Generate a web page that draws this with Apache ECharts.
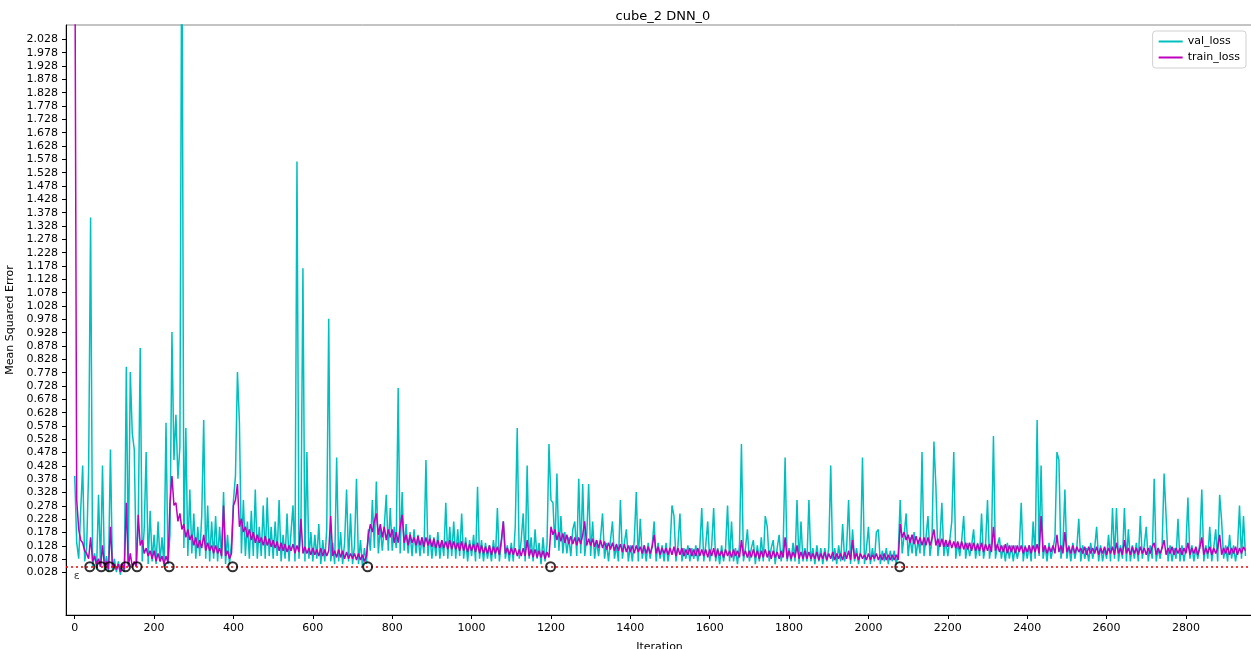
<!DOCTYPE html>
<html>
<head>
<meta charset="utf-8">
<title>cube_2 DNN_0</title>
<script src="https://cdn.jsdelivr.net/npm/echarts@6/dist/echarts.min.js"></script>
<style>
  html, body { margin: 0; padding: 0; background: #fff; }
  #chart { width: 1251px; height: 649px; }
</style>
</head>
<body>
<div id="chart"></div>
<script>
// Losses are logged every STEP iterations; one row below = 100 iterations.
const STEP = 5;

const VAL_LOSS = [
  0.39,0.14,0.08,0.26,0.43,0.07,0.12,0.41,1.36,0.05,0.10,0.04,0.32,0.05,0.43,0.04,0.09,0.03,0.49,0.04,
  0.08,0.03,0.07,0.02,0.06,0.03,0.80,0.06,0.78,0.55,0.49,0.05,0.21,0.87,0.07,0.19,0.48,0.06,0.26,0.07,
  0.17,0.06,0.22,0.07,0.16,0.05,0.59,0.06,0.17,0.93,0.45,0.62,0.38,0.50,2.60,0.12,0.57,0.09,0.34,0.10,
  0.25,0.08,0.20,0.09,0.24,0.60,0.08,0.28,0.07,0.22,0.08,0.24,0.07,0.20,0.08,0.33,0.06,0.17,0.06,0.14,
  0.30,0.39,0.78,0.59,0.10,0.30,0.09,0.22,0.08,0.26,0.09,0.34,0.08,0.20,0.09,0.28,0.08,0.31,0.09,0.20,
  0.08,0.22,0.09,0.30,0.07,0.17,0.08,0.25,0.07,0.18,0.28,0.07,1.57,0.08,0.20,1.17,0.07,0.48,0.08,0.18,
  0.07,0.17,0.08,0.21,0.06,0.15,0.07,0.19,0.98,0.07,0.14,0.06,0.46,0.07,0.18,0.06,0.14,0.34,0.07,0.25,
  0.06,0.13,0.38,0.06,0.15,0.05,0.12,0.06,0.19,0.11,0.30,0.12,0.37,0.10,0.20,0.11,0.20,0.32,0.11,0.27,
  0.11,0.20,0.12,0.72,0.10,0.33,0.11,0.21,0.10,0.18,0.09,0.19,0.10,0.17,0.09,0.16,0.10,0.45,0.09,0.17,
  0.08,0.16,0.09,0.18,0.08,0.15,0.09,0.29,0.08,0.20,0.09,0.22,0.08,0.19,0.09,0.25,0.08,0.16,0.07,0.15,
  0.09,0.17,0.07,0.35,0.08,0.15,0.07,0.14,0.08,0.13,0.07,0.15,0.08,0.27,0.07,0.14,0.22,0.08,0.13,0.07,
  0.14,0.07,0.20,0.57,0.08,0.15,0.25,0.07,0.43,0.08,0.16,0.07,0.19,0.08,0.14,0.06,0.16,0.07,0.13,0.51,
  0.30,0.29,0.12,0.40,0.11,0.24,0.10,0.18,0.10,0.16,0.09,0.19,0.22,0.09,0.38,0.10,0.36,0.09,0.16,0.36,
  0.09,0.22,0.08,0.15,0.09,0.16,0.25,0.08,0.14,0.07,0.15,0.22,0.08,0.13,0.07,0.30,0.08,0.14,0.19,0.07,
  0.13,0.07,0.15,0.33,0.07,0.23,0.08,0.13,0.07,0.14,0.08,0.13,0.22,0.07,0.14,0.08,0.13,0.07,0.14,0.07,
  0.12,0.28,0.24,0.07,0.13,0.25,0.07,0.12,0.08,0.13,0.07,0.12,0.08,0.13,0.07,0.12,0.27,0.07,0.13,0.22,
  0.07,0.13,0.27,0.07,0.12,0.06,0.13,0.07,0.12,0.28,0.07,0.22,0.07,0.12,0.06,0.13,0.51,0.07,0.12,0.19,
  0.07,0.12,0.15,0.06,0.13,0.07,0.16,0.07,0.24,0.20,0.07,0.12,0.15,0.06,0.12,0.17,0.07,0.12,0.46,0.07,
  0.12,0.07,0.14,0.07,0.30,0.06,0.22,0.07,0.12,0.07,0.30,0.07,0.12,0.06,0.13,0.07,0.12,0.06,0.12,0.07,
  0.12,0.43,0.07,0.12,0.06,0.13,0.07,0.21,0.07,0.12,0.30,0.06,0.19,0.07,0.12,0.06,0.11,0.46,0.06,0.12,
  0.20,0.06,0.12,0.07,0.18,0.19,0.06,0.11,0.07,0.12,0.06,0.11,0.07,0.11,0.06,0.10,0.30,0.10,0.17,0.25,
  0.09,0.16,0.10,0.18,0.09,0.15,0.10,0.48,0.09,0.16,0.24,0.09,0.15,0.52,0.35,0.09,0.15,0.29,0.09,0.15,
  0.09,0.15,0.22,0.48,0.08,0.14,0.09,0.15,0.24,0.08,0.14,0.09,0.13,0.19,0.08,0.14,0.09,0.25,0.08,0.13,
  0.30,0.08,0.14,0.54,0.08,0.13,0.16,0.08,0.13,0.07,0.14,0.08,0.13,0.07,0.13,0.08,0.12,0.29,0.07,0.13,
  0.08,0.13,0.07,0.22,0.08,0.60,0.09,0.43,0.08,0.13,0.07,0.14,0.08,0.12,0.16,0.48,0.45,0.08,0.13,0.34,
  0.08,0.13,0.07,0.14,0.08,0.12,0.23,0.07,0.13,0.08,0.12,0.07,0.14,0.08,0.12,0.20,0.07,0.13,0.07,0.12,
  0.08,0.17,0.07,0.27,0.08,0.27,0.07,0.13,0.08,0.27,0.07,0.19,0.07,0.13,0.08,0.14,0.07,0.24,0.08,0.13,
  0.20,0.07,0.13,0.08,0.38,0.07,0.12,0.08,0.13,0.40,0.24,0.07,0.13,0.07,0.12,0.08,0.23,0.07,0.13,0.07,
  0.12,0.31,0.08,0.13,0.07,0.12,0.08,0.14,0.34,0.07,0.13,0.08,0.20,0.07,0.12,0.19,0.07,0.32,0.22,0.08,
  0.13,0.07,0.17,0.08,0.13,0.07,0.12,0.28,0.08,0.24,0.09
];

const TRAIN_LOSS = [
  2.60,0.30,0.19,0.15,0.14,0.11,0.10,0.08,0.16,0.07,0.09,0.06,0.08,0.05,0.13,0.05,0.07,0.04,0.20,0.05,
  0.06,0.04,0.06,0.03,0.06,0.04,0.29,0.05,0.10,0.05,0.07,0.05,0.245,0.13,0.15,0.10,0.12,0.09,0.11,0.08,
  0.11,0.07,0.10,0.07,0.09,0.06,0.09,0.065,0.29,0.39,0.28,0.29,0.22,0.25,0.19,0.21,0.16,0.19,0.15,0.17,
  0.13,0.16,0.12,0.15,0.12,0.17,0.11,0.14,0.11,0.13,0.10,0.13,0.10,0.12,0.09,0.28,0.09,0.11,0.08,0.10,
  0.28,0.30,0.36,0.20,0.23,0.18,0.20,0.16,0.19,0.15,0.18,0.14,0.17,0.14,0.16,0.13,0.165,0.13,0.155,0.125,
  0.15,0.12,0.145,0.11,0.14,0.11,0.135,0.105,0.13,0.11,0.135,0.10,0.13,0.105,0.23,0.10,0.125,0.10,0.12,0.095,
  0.12,0.095,0.115,0.09,0.12,0.09,0.115,0.09,0.11,0.24,0.09,0.11,0.085,0.115,0.085,0.11,0.08,0.105,0.08,0.10,
  0.08,0.10,0.075,0.10,0.075,0.095,0.07,0.09,0.17,0.21,0.18,0.22,0.25,0.17,0.21,0.16,0.20,0.15,0.19,0.16,
  0.19,0.14,0.18,0.14,0.20,0.245,0.14,0.17,0.13,0.17,0.14,0.16,0.13,0.165,0.13,0.16,0.125,0.16,0.13,0.155,
  0.125,0.155,0.12,0.15,0.12,0.15,0.12,0.145,0.115,0.15,0.115,0.145,0.115,0.14,0.11,0.145,0.11,0.14,0.105,0.135,
  0.11,0.135,0.105,0.14,0.10,0.13,0.10,0.125,0.10,0.13,0.095,0.125,0.10,0.125,0.095,0.15,0.22,0.10,0.12,0.095,
  0.12,0.095,0.12,0.09,0.115,0.09,0.12,0.09,0.15,0.09,0.115,0.085,0.115,0.085,0.11,0.085,0.11,0.08,0.105,0.085,
  0.20,0.17,0.19,0.15,0.18,0.145,0.175,0.14,0.17,0.135,0.165,0.135,0.16,0.13,0.16,0.135,0.17,0.22,0.13,0.155,
  0.13,0.155,0.125,0.15,0.12,0.15,0.12,0.145,0.115,0.14,0.115,0.14,0.11,0.135,0.11,0.135,0.105,0.135,0.105,0.13,
  0.105,0.13,0.10,0.13,0.105,0.125,0.10,0.13,0.10,0.125,0.10,0.125,0.17,0.10,0.125,0.095,0.12,0.10,0.12,0.095,
  0.12,0.095,0.125,0.09,0.12,0.095,0.12,0.09,0.115,0.095,0.12,0.09,0.115,0.09,0.12,0.09,0.115,0.09,0.115,0.085,
  0.115,0.09,0.12,0.085,0.115,0.09,0.11,0.085,0.115,0.09,0.11,0.085,0.115,0.09,0.11,0.085,0.15,0.09,0.11,0.085,
  0.11,0.085,0.115,0.085,0.11,0.08,0.11,0.085,0.115,0.085,0.11,0.08,0.11,0.085,0.105,0.08,0.11,0.085,0.16,0.08,
  0.11,0.08,0.105,0.085,0.13,0.08,0.105,0.08,0.11,0.08,0.105,0.08,0.10,0.08,0.105,0.075,0.10,0.08,0.105,0.075,
  0.10,0.08,0.105,0.075,0.10,0.08,0.10,0.075,0.105,0.08,0.11,0.075,0.15,0.08,0.10,0.075,0.10,0.08,0.095,0.075,
  0.10,0.075,0.095,0.08,0.10,0.075,0.095,0.075,0.10,0.075,0.095,0.075,0.095,0.075,0.095,0.075,0.21,0.16,0.18,0.15,
  0.17,0.14,0.17,0.135,0.165,0.135,0.16,0.13,0.16,0.13,0.16,0.13,0.155,0.19,0.13,0.155,0.125,0.155,0.125,0.15,
  0.125,0.15,0.12,0.145,0.12,0.145,0.115,0.145,0.115,0.14,0.115,0.14,0.11,0.14,0.11,0.135,0.11,0.14,0.105,0.135,
  0.11,0.135,0.105,0.20,0.11,0.135,0.105,0.13,0.105,0.135,0.10,0.13,0.105,0.13,0.10,0.13,0.105,0.13,0.10,0.125,
  0.105,0.13,0.10,0.13,0.105,0.135,0.10,0.24,0.105,0.13,0.10,0.125,0.105,0.13,0.10,0.17,0.105,0.13,0.10,0.18,
  0.105,0.125,0.10,0.13,0.10,0.125,0.105,0.12,0.10,0.125,0.095,0.125,0.10,0.12,0.10,0.125,0.095,0.12,0.10,0.125,
  0.095,0.12,0.10,0.125,0.095,0.14,0.10,0.12,0.095,0.15,0.10,0.12,0.095,0.125,0.10,0.12,0.095,0.125,0.10,0.12,
  0.095,0.12,0.10,0.125,0.14,0.095,0.12,0.10,0.12,0.15,0.095,0.12,0.10,0.125,0.095,0.12,0.10,0.12,0.095,0.12,
  0.10,0.14,0.095,0.12,0.10,0.125,0.095,0.12,0.16,0.095,0.12,0.10,0.125,0.095,0.12,0.10,0.12,0.17,0.095,0.12,
  0.10,0.125,0.095,0.12,0.10,0.125,0.095,0.12,0.10,0.125,0.11
];

// Iterations at which a new training stage begins (marked on the epsilon line).
const STAGE_ITERATIONS = [38, 67, 88, 128, 157, 238, 398, 738, 1199, 2079];
const EPSILON = 0.05;

const X_TICKS = [0, 200, 400, 600, 800, 1000, 1200, 1400, 1600, 1800, 2000, 2200, 2400, 2600, 2800];
const Y_TICKS = [
  0.028, 0.078, 0.128, 0.178, 0.228, 0.278, 0.328, 0.378, 0.428, 0.478,
  0.528, 0.578, 0.628, 0.678, 0.728, 0.778, 0.828, 0.878, 0.928, 0.978,
  1.028, 1.078, 1.128, 1.178, 1.228, 1.278, 1.328, 1.378, 1.428, 1.478,
  1.528, 1.578, 1.628, 1.678, 1.728, 1.778, 1.828, 1.878, 1.928, 1.978, 2.028
];

const FONT = 'DejaVu Sans';
const toPoints = arr => arr.map((v, i) => [i * STEP, v]);

const chart = echarts.init(document.getElementById('chart'), null, { renderer: 'canvas' });

chart.setOption({
  animation: false,
  backgroundColor: '#ffffff',
  textStyle: { fontFamily: FONT, color: '#000' },
  title: {
    text: 'cube_2 DNN_0',
    left: 658, top: 5,
    textAlign: 'center',
    textStyle: { fontFamily: FONT, fontSize: 13, fontWeight: 'normal', color: '#000' }
  },
  grid: {
    left: 66, top: 25, right: -2, bottom: 34,
    outerBoundsMode: 'none',
    containLabel: false,
    show: true, borderColor: '#888', borderWidth: 1, backgroundColor: 'transparent'
  },
  legend: {
    data: ['val_loss', 'train_loss'],
    orient: 'vertical',
    right: 5, top: 31,
    icon: 'rect', itemWidth: 24, itemHeight: 2, itemGap: 5,
    padding: [5, 6, 5, 6],
    borderColor: '#d0d0d0', borderWidth: 1, borderRadius: 3,
    backgroundColor: 'rgba(255,255,255,0.8)',
    textStyle: { fontFamily: FONT, fontSize: 11, color: '#000' }
  },
  xAxis: {
    type: 'value',
    min: -22, max: 2969,
    name: 'Iteration', nameLocation: 'middle', nameGap: 27,
    nameTextStyle: { fontFamily: FONT, fontSize: 11, color: '#000' },
    axisLine: { show: true, onZero: false, lineStyle: { color: '#000', width: 1 } },
    axisTick: { show: true, length: 4, customValues: X_TICKS, lineStyle: { color: '#000' } },
    axisLabel: {
      customValues: X_TICKS, margin: 8, fontFamily: FONT, fontSize: 11, color: '#000',
      formatter: v => String(v)
    },
    splitLine: { show: false }
  },
  yAxis: {
    type: 'value',
    min: -0.131, max: 2.082,
    name: 'Mean Squared Error', nameLocation: 'middle', nameGap: 50,
    nameTextStyle: { fontFamily: FONT, fontSize: 11, color: '#000' },
    axisLine: { show: true, onZero: false, lineStyle: { color: '#000', width: 1 } },
    axisTick: { show: true, length: 4, customValues: Y_TICKS, lineStyle: { color: '#000' } },
    axisLabel: {
      customValues: Y_TICKS, margin: 8, fontFamily: FONT, fontSize: 11, color: '#000',
      formatter: v => v.toFixed(3)
    },
    splitLine: { show: false }
  },
  series: [
    {
      name: 'val_loss', type: 'line',
      data: toPoints(VAL_LOSS),
      showSymbol: false, symbol: 'none', sampling: null,
      lineStyle: { color: '#00bfbf', width: 1.5 },
      itemStyle: { color: '#00bfbf' },
      z: 2
    },
    {
      name: 'train_loss', type: 'line',
      data: toPoints(TRAIN_LOSS),
      showSymbol: false, symbol: 'none', sampling: null,
      lineStyle: { color: '#bf00bf', width: 1.5 },
      itemStyle: { color: '#bf00bf' },
      z: 3
    },
    {
      name: 'epsilon', type: 'scatter',
      data: [[0, EPSILON]],
      symbolSize: 0,
      label: {
        show: true, formatter: 'ε', position: 'bottom', offset: [2, -1],
        fontFamily: FONT, fontSize: 11, color: '#000'
      },
      markLine: {
        silent: true, symbol: ['none', 'none'],
        label: { show: false },
        lineStyle: { color: '#ff0000', type: [2, 3], width: 1.5 },
        data: [{ yAxis: EPSILON }]
      },
      z: 4
    },
    {
      name: 'stages', type: 'scatter',
      data: STAGE_ITERATIONS.map(it => [it, EPSILON]),
      symbol: 'circle', symbolSize: 9,
      itemStyle: { color: 'rgba(0,0,0,0)', borderColor: '#000', borderWidth: 2 },
      z: 5
    }
  ]
});
</script>
</body>
</html>
